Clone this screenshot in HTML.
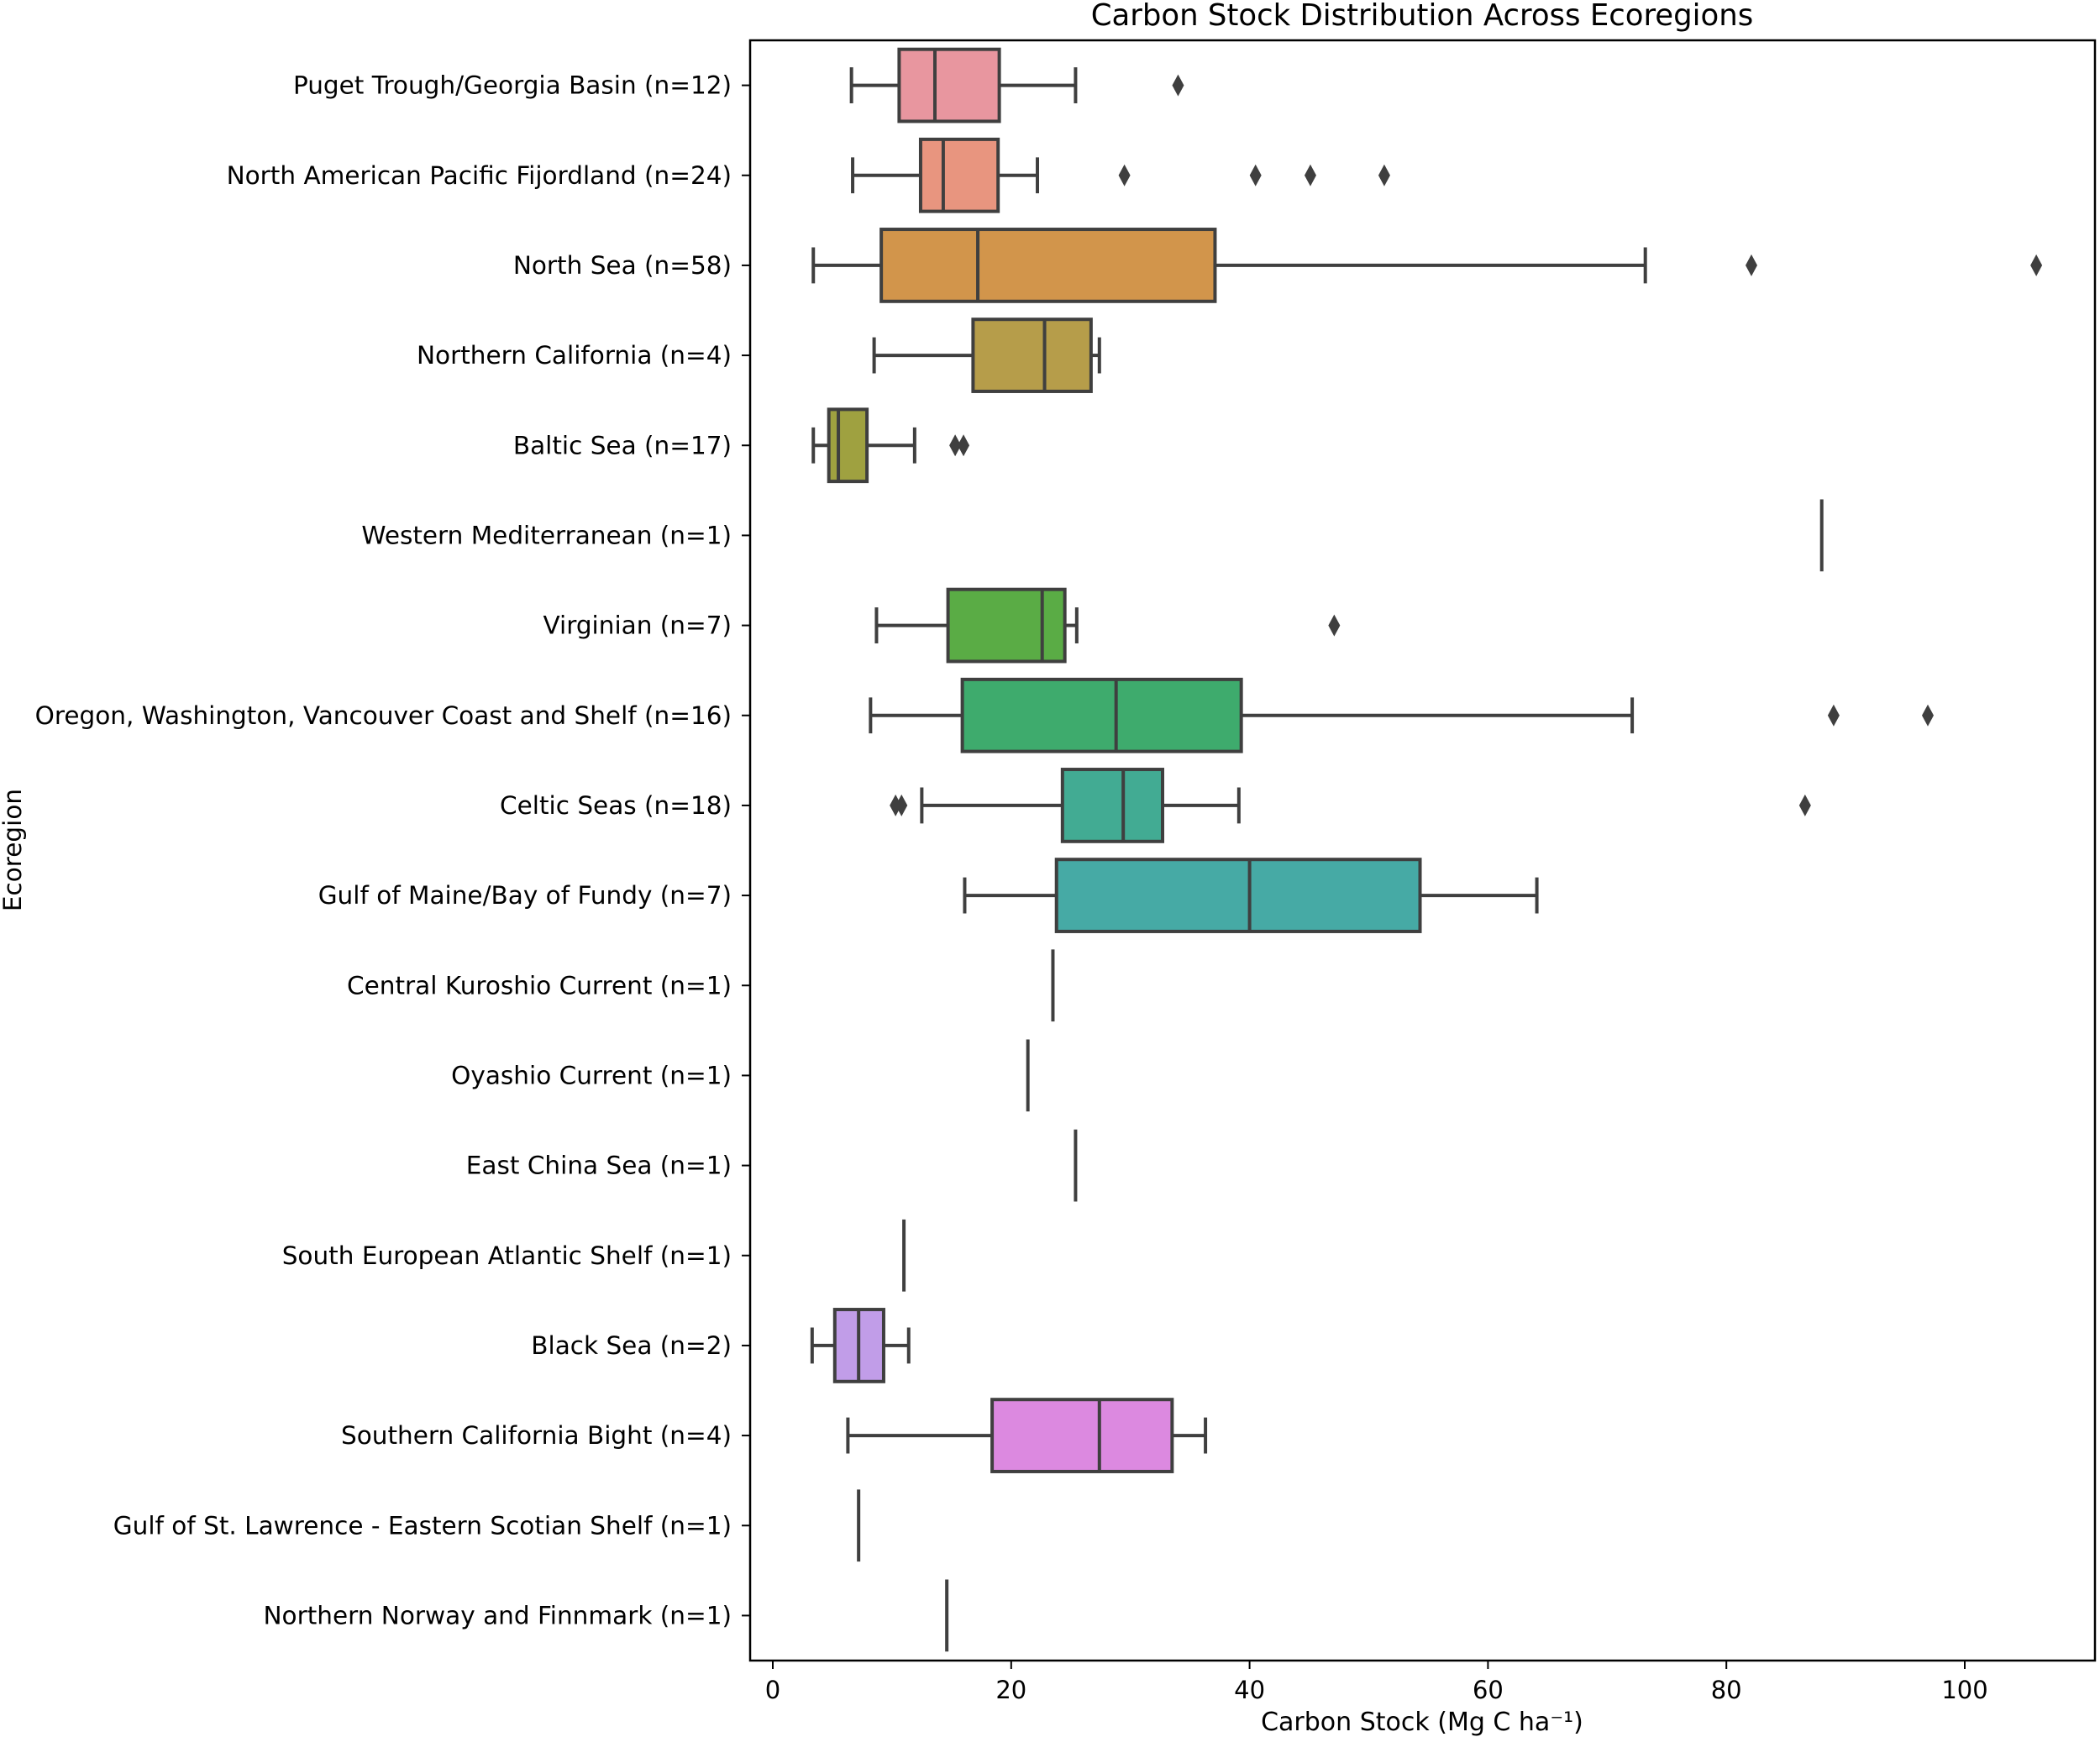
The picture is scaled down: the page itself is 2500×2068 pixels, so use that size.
<!DOCTYPE html>
<html><head><meta charset="utf-8"><style>
html,body{margin:0;padding:0;background:#fff;}
svg{display:block;font-family:"DejaVu Sans","Liberation Sans",sans-serif;}
</style></head><body>
<svg id="chart" width="2500" height="2068" viewBox="0 0 2500 2068" xmlns="http://www.w3.org/2000/svg">
<text x="1693" y="30" font-size="35.5" text-anchor="middle">Carbon Stock Distribution Across Ecoregions</text>
<text x="1693" y="2060" font-size="30" text-anchor="middle">Carbon Stock (Mg C ha⁻¹)</text>
<text transform="translate(25,1012) rotate(-90)" font-size="29.5" text-anchor="middle">Ecoregion</text>
<g id="plot"></g>
</svg>
<script>
const categories=["Puget Trough/Georgia Basin (n=12)","North American Pacific Fijordland (n=24)","North Sea (n=58)","Northern California (n=4)","Baltic Sea (n=17)","Western Mediterranean (n=1)","Virginian (n=7)","Oregon, Washington, Vancouver Coast and Shelf (n=16)","Celtic Seas (n=18)","Gulf of Maine/Bay of Fundy (n=7)","Central Kuroshio Current (n=1)","Oyashio Current (n=1)","East China Sea (n=1)","South European Atlantic Shelf (n=1)","Black Sea (n=2)","Southern California Bight (n=4)","Gulf of St. Lawrence - Eastern Scotian Shelf (n=1)","Northern Norway and Finnmark (n=1)"];
const whiskerLow=[6.6,6.7,3.4,8.5,3.4,88.0,8.7,8.2,12.5,16.1,23.5,21.4,25.4,11.0,3.3,6.3,7.2,14.6];
const q1=[10.6,12.4,9.1,16.8,4.7,88.0,14.7,15.9,24.3,23.8,23.5,21.4,25.4,11.0,5.2,18.4,7.2,14.6];
const median=[13.6,14.3,17.2,22.8,5.5,88.0,22.6,28.8,29.4,40.0,23.5,21.4,25.4,11.0,7.2,27.4,7.2,14.6];
const q3=[19.0,18.9,37.1,26.7,7.9,88.0,24.5,39.3,32.7,54.3,23.5,21.4,25.4,11.0,9.3,33.5,7.2,14.6];
const whiskerHigh=[25.4,22.2,73.2,27.4,11.9,88.0,25.5,72.1,39.1,64.1,23.5,21.4,25.4,11.0,11.4,36.3,7.2,14.6];
const outliers=[[34.0],[29.5,40.5,45.1,51.3],[82.1,106.0],[],[15.3,16.0],[],[47.1],[89.0,96.9],[10.3,10.8,86.6],[],[],[],[],[],[],[],[],[]];
const colors=["#e8969f","#e8957f","#d2954b","#b69d4a","#9fa140","#7da93f","#5aac45","#3eab6d","#42ab93","#46aaa5","#45a8b8","#4aa3d0","#7a9ae6","#a197e8","#c19de8","#dc89e0","#e38bc8","#e890b3"];
const xTicks=[0,20,40,60,80,100];

const L=893,R=2494,T=48,B=1977;
const X0=920,PX=14.19;
function xs(v){return X0+v*PX;}
const band=(B-T)/categories.length;
function yc(i){return T+band*(i+0.5);}
const NS="http://www.w3.org/2000/svg";
const g=document.getElementById('plot');
function mk(tag,attrs,parent){const e=document.createElementNS(NS,tag);for(const k in attrs)e.setAttribute(k,attrs[k]);(parent||g).appendChild(e);return e;}
const LC="#3f3f3f",LW=4,BH=band*0.8;

categories.forEach((c,i)=>{
  const y=yc(i);
  const grp=mk('g',{});
  
  
  mk('line',{x1:L-10,x2:L,y1:y,y2:y,stroke:'#000','stroke-width':2},grp);
  const t=mk('text',{x:L-22,y:y+10,'font-size':29.5,'text-anchor':'end'},grp);
  t.textContent=c;
  
  
  if(q1[i]===q3[i]){
    mk('line',{x1:xs(median[i]),x2:xs(median[i]),y1:y-BH/2,y2:y+BH/2,stroke:LC,'stroke-width':LW},grp);
  } else {
    mk('line',{x1:xs(whiskerLow[i]),x2:xs(q1[i]),y1:y,y2:y,stroke:LC,'stroke-width':LW},grp);
    mk('line',{x1:xs(q3[i]),x2:xs(whiskerHigh[i]),y1:y,y2:y,stroke:LC,'stroke-width':LW},grp);
    mk('line',{x1:xs(whiskerLow[i]),x2:xs(whiskerLow[i]),y1:y-BH/4,y2:y+BH/4,stroke:LC,'stroke-width':LW},grp);
    mk('line',{x1:xs(whiskerHigh[i]),x2:xs(whiskerHigh[i]),y1:y-BH/4,y2:y+BH/4,stroke:LC,'stroke-width':LW},grp);
    mk('rect',{x:xs(q1[i]),y:y-BH/2,width:xs(q3[i])-xs(q1[i]),height:BH,fill:colors[i],stroke:LC,'stroke-width':LW},grp);
    mk('line',{x1:xs(median[i]),x2:xs(median[i]),y1:y-BH/2,y2:y+BH/2,stroke:LC,'stroke-width':LW},grp);
  }
  outliers[i].forEach(v=>{
    const px=xs(v);
    const d=mk('path',{d:`M${px},${y-13} L${px+7},${y} L${px},${y+13} L${px-7},${y} Z`,fill:LC},grp);
    
    
  });
});
xTicks.forEach(v=>{
  const px=xs(v);
  mk('line',{x1:px,x2:px,y1:B,y2:B+10,stroke:'#000','stroke-width':2});
  const t=mk('text',{x:px,y:B+45,'font-size':29,'text-anchor':'middle'});
  t.textContent=v;
  
  
});
const fr=mk('rect',{x:L,y:T,width:R-L,height:B-T,fill:'none',stroke:'#000','stroke-width':2.5});


</script>
</body></html>
